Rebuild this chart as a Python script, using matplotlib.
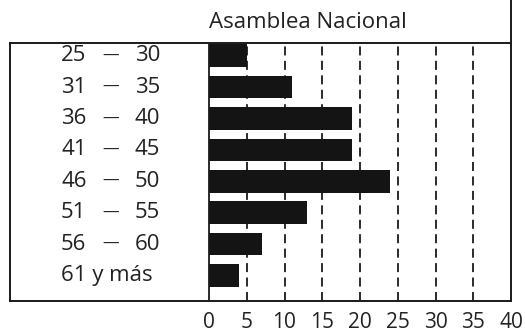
import matplotlib.pyplot as plt
from matplotlib.lines import Line2D

# Data
age_groups = [("25", "30"), ("31", "35"), ("36", "40"), ("41", "45"),
              ("46", "50"), ("51", "55"), ("56", "60"), ("61 y más", None)]
values = [5, 11, 19, 19, 24, 13, 7, 4]
xticks = [0, 5, 10, 15, 20, 25, 30, 35, 40]
title = "Asamblea Nacional"

plt.rcParams['font.family'] = ['Open Sans', 'DejaVu Sans']

fig = plt.figure(figsize=(5.25, 3.33), dpi=100)
W, H = 525, 333

# axes spans the full framed box; zero sits at x~209 px
left_px, right_px, top_px, bottom_px = 10, 511, 42.5, 300.5
ax = fig.add_axes([left_px / W, 1 - bottom_px / H,
                   (right_px - left_px) / W, (bottom_px - top_px) / H])

scale = (right_px - 209) / 40.0
xmin = -(209 - left_px) / scale
ax.set_xlim(xmin, 40)
ax.set_ylim(7.8, -0.42)

ypos = list(range(len(values)))
ax.barh(ypos, values, height=0.72, color='#141414', edgecolor='none', zorder=3)

# dashed guide lines and zero line
for t in xticks[1:-1]:
    ax.axvline(t, color='#1a1a1a', lw=1.3, linestyle=(0, (5, 3)), zorder=1)
ax.axvline(0, color='#1a1a1a', lw=1.3, zorder=4)

# row labels
def px2x(px):
    return (px - 209) / scale

fs = 16
for y, (a, b) in zip(ypos, age_groups):
    ax.text(px2x(61), y, a, ha='left', va='center', fontsize=fs, color='#222222')
    if b is not None:
        ax.text(px2x(111), y, "—", ha='center', va='center', fontsize=12, color='#222222')
        ax.text(px2x(160), y, b, ha='right', va='center', fontsize=fs, color='#222222')

ax.set_xticks(xticks)
ax.set_xticklabels([str(t) for t in xticks], fontsize=15, color='#222222')
ax.tick_params(axis='x', length=0, pad=8)
ax.set_yticks([])

for s in ax.spines.values():
    s.set_color('#1a1a1a')
    s.set_linewidth(1.4)

# right border continues up past the title
fig.add_artist(Line2D([right_px / W, right_px / W], [1 - top_px / H, 1.0],
                      transform=fig.transFigure, color='#1a1a1a', lw=1.4))

fig.text(308 / W, 1 - 23 / H, title, ha='center', va='center',
         fontsize=16, color='#222222')

fig.savefig('out.png', dpi=100, facecolor='white')
